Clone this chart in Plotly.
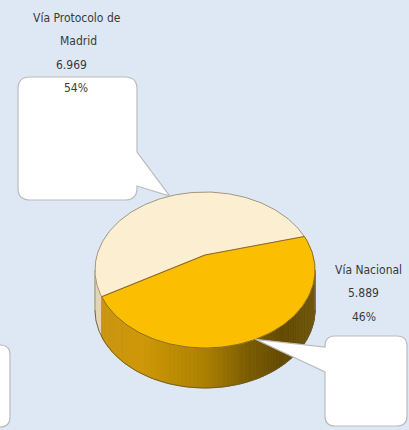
import math
import textwrap
import plotly.graph_objects as go

# ---- data -------------------------------------------------------------
labels = ["Vía Protocolo de Madrid", "Vía Nacional"]
values = [6969, 5889]
top_colors = ["#fcefd1", "#fcbe00"]

# ---- pie geometry (pixel-like data units, y grows downward) ------------
W, H = 409, 430
CX, CY = 205, 255          # projected centre of the disc
M, K, E = 107.95, 75.1, 0.1923   # perspective projection of the disc
DEPTH = 40                  # thickness of the 3-D pie
START = 15.0                # first slice starts here, counter-clockwise

BG = "#dde8f4"
TEXT = "#3a3a3a"
FONT = "DejaVu Sans Condensed, sans-serif"


def rim(phi):
    r = math.radians(phi)
    s, c = math.sin(r), math.cos(r)
    d = 1 + E * s
    return CX + M * c / d, CY - K * s / d


def arc(a0, a1, n=None):
    n = n or max(2, int(abs(a1 - a0) / 1.5) + 1)
    return [rim(a0 + (a1 - a0) * i / (n - 1)) for i in range(n)]


total = sum(values)
spans = [360.0 * v / total for v in values]
bounds = []
a = START
for sp in spans:
    bounds.append((a, a + sp))
    a += sp


def slice_of(phi):
    for i, (a0, a1) in enumerate(bounds):
        p = (phi - a0) % 360
        if p <= a1 - a0:
            return i
    return len(bounds) - 1


def lerp_stops(stops, t):
    t = min(max(t, 0.0), 1.0)
    for (t0, c0), (t1, c1) in zip(stops, stops[1:]):
        if t <= t1:
            u = (t - t0) / (t1 - t0) if t1 > t0 else 0
            return "rgb(%d,%d,%d)" % tuple(round(c0[k] + (c1[k] - c0[k]) * u) for k in range(3))
    return "rgb(%d,%d,%d)" % stops[-1][1]


side_stops = [
    [(0.0, (226, 214, 182)), (1.0, (214, 200, 160))],
    [(0.0, (200, 148, 18)), (0.22, (206, 152, 6)), (0.5, (172, 128, 0)),
     (0.7, (122, 91, 0)), (0.86, (98, 74, 0)), (1.0, (112, 86, 12))],
]

fig = go.Figure()

# ---- side wall (front half, shaded strips) ----------------------------
tang = math.degrees(math.asin(E))
vis0, vis1 = 180 + tang, 360 - tang
cuts = [vis0 + (vis1 - vis0) * i / 90 for i in range(91)]
for a0, a1 in bounds:
    for b in (a0 % 360, a1 % 360):
        if vis0 < b < vis1:
            cuts.append(b)
cuts = sorted(set(round(c, 4) for c in cuts))
xl, xr = CX - M / math.sqrt(1 - E * E), CX + M / math.sqrt(1 - E * E)
for p0, p1 in zip(cuts, cuts[1:]):
    idx = slice_of((p0 + p1) / 2)
    top = arc(p0, p1, 3)
    pts = top + [(x, y + DEPTH) for x, y in reversed(top)]
    xm = sum(p[0] for p in top) / len(top)
    col = lerp_stops(side_stops[idx], (xm - xl) / (xr - xl))
    fig.add_trace(go.Scatter(
        x=[p[0] for p in pts] + [pts[0][0]], y=[p[1] for p in pts] + [pts[0][1]],
        fill="toself", fillcolor=col, mode="lines", line=dict(color=col, width=0.8),
        hoverinfo="skip", showlegend=False))

# side outlines
bottom = [(x, y + DEPTH) for x, y in arc(vis0, vis1, 120)]
fig.add_trace(go.Scatter(x=[p[0] for p in bottom], y=[p[1] for p in bottom], mode="lines",
                         line=dict(color="#6b5a2c", width=0.9), hoverinfo="skip", showlegend=False))
for p in (vis0, vis1):
    x, y = rim(p)
    fig.add_trace(go.Scatter(x=[x, x], y=[y, y + DEPTH], mode="lines",
                             line=dict(color="#8a8070", width=0.8), hoverinfo="skip", showlegend=False))

# ---- top face ---------------------------------------------------------
for i, (a0, a1) in enumerate(bounds):
    pts = [(CX, CY)] + arc(a0, a1) + [(CX, CY)]
    fig.add_trace(go.Scatter(
        x=[p[0] for p in pts], y=[p[1] for p in pts], fill="toself",
        fillcolor=top_colors[i], mode="lines", line=dict(color=top_colors[i], width=0.5),
        hoverinfo="skip", showlegend=False))

# rim outline
for i, (a0, a1) in enumerate(bounds):
    pts = arc(a0, a1)
    fig.add_trace(go.Scatter(x=[p[0] for p in pts], y=[p[1] for p in pts], mode="lines",
                             line=dict(color="#948b78" if i == 0 else "#7d6420", width=0.9),
                             hoverinfo="skip", showlegend=False))

# slice boundaries
for a0, _ in bounds:
    x, y = rim(a0)
    fig.add_trace(go.Scatter(x=[CX, x], y=[CY, y], mode="lines",
                             line=dict(color="#86682a", width=1.1), hoverinfo="skip", showlegend=False))

# ---- callouts ---------------------------------------------------------
def bubble(x0, y0, x1, y1, r, tail=None):
    """Rounded box; tail = (side, base_a, base_b, tip_x, tip_y)."""
    p = [f"M {x0 + r},{y0}", f"H {x1 - r}", f"Q {x1},{y0} {x1},{y0 + r}"]
    if tail and tail[0] == "right":
        _, ya, yb, tx, ty = tail
        p += [f"V {ya}", f"L {tx},{ty}", f"L {x1},{yb}"]
    p += [f"V {y1 - r}", f"Q {x1},{y1} {x1 - r},{y1}", f"H {x0 + r}",
          f"Q {x0},{y1} {x0},{y1 - r}"]
    if tail and tail[0] == "left":
        _, ya, yb, tx, ty = tail
        p += [f"V {yb}", f"L {tx},{ty}", f"L {x0},{ya}"]
    p += [f"V {y0 + r}", f"Q {x0},{y0} {x0 + r},{y0}", "Z"]
    return " ".join(p)


mids = [rim((a0 + a1) / 2) for a0, a1 in bounds]
boxes = [
    (18, 77, 137, 200, 12, ("right", 152, 186)),
    (325, 336, 407, 426, 10, ("left", 347, 372)),
]
shapes = []
for (x0, y0, x1, y1, r, (side, ya, yb)), (tx, ty) in zip(boxes, mids):
    shapes.append(dict(type="path", xref="x", yref="y",
                       path=bubble(x0, y0, x1, y1, r, (side, ya, yb, tx, ty)),
                       fillcolor="white", line=dict(color="#bcbcbc", width=1.2), layer="above"))
shapes.append(dict(type="path", xref="x", yref="y", path=bubble(-30, 345, 10, 427, 10),
                   fillcolor="white", line=dict(color="#bcbcbc", width=1.2), layer="above"))

# ---- data labels ------------------------------------------------------
label_pos = [  # (first line y, x of each line)
    (18, [77, 78, 71, 76]),
    (270, [368, 363, 364]),
]
LINE = 23.4
annotations = []
for name, v, (y0, xs) in zip(labels, values, label_pos):
    pct = round(100 * v / total)
    lines = textwrap.wrap(name, 16) + [f"{v:,}".replace(",", "."), f"{pct}%"]
    for k, (txt, x) in enumerate(zip(lines, xs)):
        annotations.append(dict(x=x, y=y0 + k * LINE, xref="x", yref="y", text=txt,
                                showarrow=False, xanchor="center", yanchor="middle",
                                font=dict(family=FONT, size=12, color=TEXT)))

fig.update_layout(
    width=W, height=H, margin=dict(l=0, r=0, t=0, b=0),
    paper_bgcolor=BG, plot_bgcolor=BG,
    xaxis=dict(range=[0, W], visible=False, fixedrange=True),
    yaxis=dict(range=[H, 0], visible=False, fixedrange=True),
    shapes=shapes, annotations=annotations, showlegend=False,
)
fig.write_html("out.html")
